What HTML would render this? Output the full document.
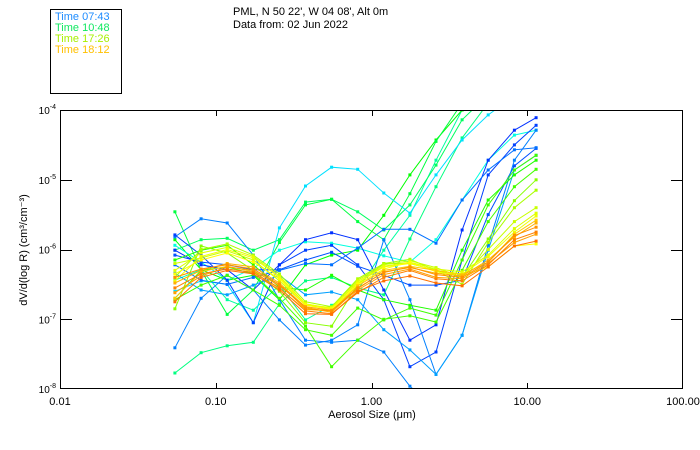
<!DOCTYPE html>
<html><head><meta charset="utf-8">
<style>
body{margin:0;background:#fff;}
svg{display:block;font-family:"Liberation Sans",sans-serif;}
</style></head>
<body>
<svg id="chart" width="700" height="450" viewBox="0 0 700 450">
  <rect x="0" y="0" width="700" height="450" fill="#fff"/>
  <rect x="50.5" y="9.5" width="71" height="84" fill="none" stroke="#000"/>
  <g font-size="11">
    <text x="55" y="20" fill="#1e8cff">Time 07:43</text>
    <text x="55" y="31" fill="#10e860">Time 10:48</text>
    <text x="55" y="42" fill="#a8f000">Time 17:26</text>
    <text x="55" y="53" fill="#ffc000">Time 18:12</text>
  </g>
  <text x="233" y="15" font-size="11">PML, N 50 22', W 04 08', Alt 0m</text>
  <text x="233" y="28" font-size="11">Data from: 02 Jun 2022</text>
  <defs><clipPath id="plotclip"><rect x="60" y="110" width="623" height="279"/></clipPath></defs>
  <g id="series" clip-path="url(#plotclip)"></g>
  <rect x="60.5" y="110.5" width="622" height="278" fill="none" stroke="#000"/>
  <g id="axes"></g>
  <text x="372" y="418" font-size="11" text-anchor="middle">Aerosol Size (μm)</text>
  <text transform="translate(27,250) rotate(-90)" font-size="11" text-anchor="middle">dV/d(log R)  (cm³/cm⁻³)</text>
</svg>
<script>
const sizes = [0.0547,0.0805,0.1184,0.1742,0.2562,0.3769,0.5544,0.8155,1.2,1.765,2.596,3.819,5.618,8.264,11.4];
const xTicks = [0.01,0.1,1,10,100];
const xTickLabels = ["0.01","0.10","1.00","10.00","100.00"];
const yTicks = [-4,-5,-6,-7,-8];
const seriesColors = ["#ff7000","#ff8000","#ff9000","#ffa000","#ffb000","#ffc800","#ffff00","#f0ff00","#ddff00","#c8ff00","#aaff00","#88ff00","#44ff00","#00ff40","#00ff80","#00e0ff","#0080ff","#0040ff","#0030ff","#0050ff","#0080ff","#00a0ff","#0070ff","#00ffe0","#00ff60","#20ff00","#40ff00","#00ffa0","#00ff00"];
// log10 of dV/dlogR
const s0=[-6.75,-6.40,-6.30,-6.35,-6.58,-6.92,-6.93,-6.60,-6.45,-6.38,-6.48,-6.52,-6.25,-5.95,-5.88];
const s1=[-6.55,-6.35,-6.28,-6.33,-6.55,-6.88,-6.92,-6.62,-6.40,-6.30,-6.42,-6.45,-6.22,-5.86,-5.75];
const s2=[-6.40,-6.28,-6.22,-6.28,-6.50,-6.85,-6.88,-6.55,-6.33,-6.25,-6.36,-6.40,-6.18,-5.80,-5.68];
const s3=[-6.62,-6.38,-6.25,-6.30,-6.52,-6.82,-6.87,-6.58,-6.36,-6.28,-6.40,-6.42,-6.20,-5.90,-5.78];
const s4=[-6.48,-6.30,-6.20,-6.25,-6.48,-6.83,-6.90,-6.56,-6.32,-6.26,-6.34,-6.38,-6.15,-5.82,-5.62];
const s5=[-6.70,-6.32,-6.24,-6.32,-6.56,-6.86,-6.88,-6.52,-6.30,-6.24,-6.30,-6.36,-6.18,-5.78,-5.58];
const s6=[-6.35,-6.15,-6.05,-6.18,-6.42,-6.80,-6.86,-6.50,-6.28,-6.18,-6.32,-6.38,-6.25,-5.95,-5.92];
const s7=[-6.45,-6.10,-6.00,-6.12,-6.40,-6.78,-6.84,-6.48,-6.25,-6.20,-6.30,-6.35,-6.10,-5.75,-5.52];
const s8=[-6.30,-6.05,-5.97,-6.10,-6.38,-6.78,-6.85,-6.46,-6.24,-6.18,-6.28,-6.32,-6.08,-5.70,-5.48];
const s9=[-6.20,-6.12,-6.02,-6.15,-6.45,-6.80,-6.83,-6.44,-6.22,-6.16,-6.26,-6.40,-6.00,-5.60,-5.40];
const s10=[-6.40,-6.00,-5.92,-6.08,-6.35,-6.75,-6.82,-6.42,-6.20,-6.14,-6.30,-6.50,-5.90,-5.40,-5.15];
const s11=[-6.85,-5.95,-6.05,-6.30,-6.60,-7.05,-7.10,-6.50,-6.20,-6.20,-6.30,-6.40,-5.85,-5.30,-5.00];
const s12=[-6.70,-6.30,-6.25,-6.35,-6.70,-7.10,-7.68,-7.30,-7.00,-6.95,-7.04,-6.30,-5.60,-5.10,-4.85];
const s13=[-5.46,-6.30,-6.93,-6.58,-5.90,-5.36,-5.28,-5.60,-5.86,-5.20,-4.45,-3.90,-3.50,-3.20,-3.00];
const s14=[-7.77,-7.48,-7.38,-7.33,-6.78,-6.45,-6.40,-6.55,-6.65,-5.85,-5.10,-4.40,-3.90,-3.50,-3.20];
const s15=[-6.60,-6.45,-6.50,-7.05,-5.69,-5.09,-4.82,-4.85,-5.19,-5.48,-4.93,-4.43,-4.07,-3.80,-3.60];
const s16=[-5.82,-5.56,-5.62,-6.08,-6.72,-7.30,-7.33,-7.30,-7.47,-7.96,-8.30,-8.50,-8.60,-8.70,-8.80];
const s17=[-5.79,-6.08,-6.44,-7.05,-6.22,-6.01,-5.94,-6.22,-6.72,-7.68,-7.47,-6.15,-4.93,-4.50,-4.22];
const s18=[-6.01,-6.22,-6.29,-6.58,-6.22,-5.86,-5.76,-5.86,-6.58,-7.30,-7.08,-5.72,-4.72,-4.29,-4.11];
const s19=[-6.08,-6.18,-6.22,-6.29,-6.29,-6.15,-6.04,-6.24,-6.37,-6.51,-6.51,-6.44,-5.50,-4.80,-4.55];
const s20=[-7.41,-6.70,-6.37,-6.58,-7.01,-7.37,-7.30,-7.08,-5.86,-6.72,-7.79,-7.23,-5.94,-4.72,-4.29];
const s21=[-6.34,-6.58,-6.65,-6.51,-6.37,-6.65,-6.61,-6.72,-7.15,-7.44,-7.79,-7.23,-6.01,-4.86,-4.65];
const s22=[-6.22,-6.44,-6.50,-6.40,-6.30,-6.20,-6.22,-5.98,-5.71,-5.71,-5.91,-5.29,-4.86,-4.57,-4.54];
const s23=[-5.94,-6.18,-6.44,-6.27,-6.01,-5.89,-5.91,-5.98,-6.09,-6.18,-5.86,-5.29,-4.72,-4.36,-4.29];
const s24=[-6.01,-5.86,-5.84,-6.01,-5.86,-5.32,-5.28,-5.46,-5.72,-5.36,-4.79,-4.14,-3.78,-3.50,-3.30];
const s25=[-6.15,-6.01,-5.94,-6.22,-6.54,-6.58,-6.37,-6.58,-6.72,-6.80,-6.87,-6.01,-5.29,-4.93,-4.72];
const s26=[-6.72,-6.51,-6.37,-6.58,-6.80,-7.15,-7.23,-6.84,-7.01,-6.84,-6.94,-6.15,-5.36,-4.86,-4.65];
const s27=[-6.44,-6.29,-6.72,-6.87,-6.51,-7.01,-6.80,-6.58,-6.01,-5.51,-4.72,-4.00,-3.57,-3.30,-3.10];
const s28=[-5.86,-6.29,-6.44,-6.37,-6.72,-6.22,-6.08,-6.01,-5.51,-4.93,-4.43,-4.00,-3.64,-3.40,-3.20];
const seriesValues=[s27,s28,s24,s13,s14,s15,s23,s16,s17,s18,s19,s20,s21,s22,s25,s26,s12,s11,s10,s9,s8,s7,s6,s5,s4,s3,s2,s1,s0];
const seriesColorOrder=[27,28,24,13,14,15,23,16,17,18,19,20,21,22,25,26,12,11,10,9,8,7,6,5,4,3,2,1,0];

const X0=60,X1=683,Y0=110,Y1=389;
function xScale(v){return X0+(Math.log10(v)+2)/4*(X1-X0);}
function yScale(lv){return Y0+(-4-lv)/4*(Y1-Y0);}
const NS="http://www.w3.org/2000/svg";
const sg=document.getElementById('series');
seriesValues.forEach((vals,k)=>{
  const col=seriesColors[seriesColorOrder[k]];
  const g=document.createElementNS(NS,'g');
  
  
  const pts=vals.map((v,i)=>xScale(sizes[i]).toFixed(1)+','+yScale(v).toFixed(1)).join(' ');
  const pl=document.createElementNS(NS,'polyline');
  pl.setAttribute('points',pts);pl.setAttribute('fill','none');pl.setAttribute('stroke',col);pl.setAttribute('stroke-width','1');
  
  
  g.appendChild(pl);
  vals.forEach((v,i)=>{
    const r=document.createElementNS(NS,'rect');
    r.setAttribute('x',(xScale(sizes[i])-1.5).toFixed(1));r.setAttribute('y',(yScale(v)-1.5).toFixed(1));
    r.setAttribute('width','3');r.setAttribute('height','3');r.setAttribute('fill',col);
    
    
    g.appendChild(r);
  });
  sg.appendChild(g);
});
const ax=document.getElementById('axes');
xTicks.forEach((t,i)=>{
  const x=Math.round(xScale(t))+0.5;
  if(i>0&&i<xTicks.length-1){
    [[Y1,Y1-6],[Y0,Y0+6]].forEach(([a,b])=>{
      const l=document.createElementNS(NS,'line');
      l.setAttribute('x1',x);l.setAttribute('x2',x);l.setAttribute('y1',a);l.setAttribute('y2',b);l.setAttribute('stroke','#000');
      
      
      ax.appendChild(l);
    });
  }
  const tx=document.createElementNS(NS,'text');
  tx.setAttribute('x',xScale(t));tx.setAttribute('y',405);tx.setAttribute('font-size','11');tx.setAttribute('text-anchor','middle');
  tx.textContent=xTickLabels[i];
  
  
  ax.appendChild(tx);
});
yTicks.forEach((t,i)=>{
  const y=Math.round(yScale(t))+0.5;
  if(i>0&&i<yTicks.length-1){
    [[X0,X0+12],[X1,X1-12]].forEach(([a,b])=>{
      const l=document.createElementNS(NS,'line');
      l.setAttribute('x1',a);l.setAttribute('x2',b);l.setAttribute('y1',y);l.setAttribute('y2',y);l.setAttribute('stroke','#000');
      
      
      ax.appendChild(l);
    });
  }
  const tx=document.createElementNS(NS,'text');
  tx.setAttribute('x',56);tx.setAttribute('y',yScale(t)+4);tx.setAttribute('font-size','10');tx.setAttribute('text-anchor','end');
  tx.innerHTML='10<tspan dy="-5" font-size="7">'+t+'</tspan>';
  
  
  ax.appendChild(tx);
});
</script>
</body></html>
